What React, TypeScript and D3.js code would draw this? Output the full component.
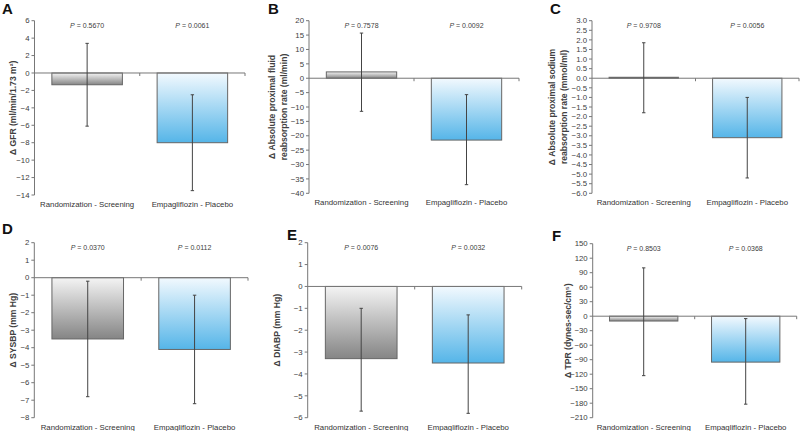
import React from "react";
import * as d3 from "d3";

const categories = ["Randomization - Screening", "Empagliflozin - Placebo"];
const panelLetters = ["A", "B", "C", "D", "E", "F"];
const yLabelLines: string[][] = [
  ["Δ GFR (ml/min/1.73 m²)"],
  ["Δ Absolute proximal fluid", "reabsorption rate (ml/min)"],
  ["Δ Absolute proximal sodium", "reabsorption rate (mmol/ml)"],
  ["Δ SYSBP (mm Hg)"],
  ["Δ DIABP (mm Hg)"],
  ["Δ TPR (dynes-sec/cm⁵)"],
];
const meanValues = [
  [-1.35, -8.0],
  [2.2, -21.5],
  [0.05, -3.1],
  [-3.5, -4.1],
  [-3.3, -3.5],
  [-10, -95],
];
const errLow = [
  [-6.1, -13.5],
  [-11.5, -37],
  [-1.8, -5.2],
  [-6.8, -7.2],
  [-5.7, -5.8],
  [-123, -182],
];
const errHigh = [
  [3.4, -2.5],
  [15.7, -5.7],
  [1.85, -1.0],
  [-0.2, -1.0],
  [-1.0, -1.3],
  [100, -5],
];
const pValues = [
  ["0.5670", "0.0061"],
  ["0.7578", "0.0092"],
  ["0.9708", "0.0056"],
  ["0.0370", "0.0112"],
  ["0.0076", "0.0032"],
  ["0.8503", "0.0368"],
];
const yDomains = [
  [-14, 6],
  [-40, 20],
  [-6, 3],
  [-8, 2],
  [-6, 2],
  [-210, 150],
];
const yTickSteps = [2, 5, 0.5, 1, 1, 30];
const yTickDecimals = [0, 0, 1, 0, 0, 0];

// layout (pixels)
const layouts = [
  { left: 34.5, right: 245, top: 20.7, bottom: 195, letterX: 2, letterY: 14, labelX: 15.5 },
  { left: 309, right: 519, top: 20.7, bottom: 193.3, letterX: 268, letterY: 14, labelX: 275 },
  { left: 592, right: 799, top: 20.7, bottom: 193.3, letterX: 550, letterY: 14, labelX: 555 },
  { left: 34.3, right: 248, top: 242.7, bottom: 417.7, letterX: 2, letterY: 234, labelX: 15.5 },
  { left: 307.7, right: 521.7, top: 242.7, bottom: 417.7, letterX: 287, letterY: 240, labelX: 280 },
  { left: 592.7, right: 796.7, top: 243.7, bottom: 417.7, letterX: 552, letterY: 241, labelX: 571 },
];

const FONT = "Liberation Sans, Arial, Helvetica, sans-serif";

function Panel({ i }: { i: number }) {
  const L = layouts[i];
  const [ymin, ymax] = yDomains[i];
  const y = d3.scaleLinear().domain([ymin, ymax]).range([L.bottom, L.top]);
  const x = d3.scaleBand<string>().domain(categories).range([L.left, L.right]).padding(0);
  const bw = x.bandwidth();
  const barW = bw * 0.67;
  const step = yTickSteps[i];
  const ticks = d3.range(ymin, ymax + step / 2, step);
  const fmt = d3.format(`.${yTickDecimals[i]}f`);
  const y0 = y(0);
  const lines = yLabelLines[i];
  const midY = (L.top + L.bottom) / 2;
  return (
    <g>
      <text x={L.letterX} y={L.letterY} fontFamily={FONT} fontWeight="bold" fontSize={15} fill="#111">
        {panelLetters[i]}
      </text>
      {/* y axis */}
      <line x1={L.left} x2={L.left} y1={L.top} y2={L.bottom} stroke="#777" strokeWidth={1} />
      {ticks.map((t) => (
        <g key={t}>
          <line x1={L.left - 3} x2={L.left} y1={y(t)} y2={y(t)} stroke="#777" />
          <text
            x={L.left - 5}
            y={y(t)}
            dy="0.35em"
            textAnchor="end"
            fontFamily={FONT}
            fontSize={7.8}
            fill="#404040"
          >
            {fmt(t).replace("-0.0", "0.0")}
          </text>
        </g>
      ))}
      {/* y label */}
      <text
        transform={`translate(${L.labelX},${midY}) rotate(-90)`}
        textAnchor="middle"
        fontFamily={FONT}
        fontWeight="bold"
        fontSize={8.6}
        fill="#404040"
      >
        {lines.map((ln, k) => (
          <tspan key={k} x={0} dy={k === 0 ? 0 : "1.35em"}>
            {ln}
          </tspan>
        ))}
      </text>
      {/* bars */}
      {categories.map((c, j) => {
        const v = meanValues[i][j];
        const bx = (x(c) as number) + (bw - barW) / 2;
        const yTop = Math.min(y(v), y0);
        const h = Math.abs(y(v) - y0);
        return (
          <rect
            key={c}
            x={bx}
            y={yTop}
            width={barW}
            height={Math.max(h, 0.5)}
            fill={j === 0 ? "url(#gradGray)" : "url(#gradBlue)"}
            stroke="#666"
            strokeWidth={1}
          />
        );
      })}
      {/* x axis at zero */}
      <line x1={L.left} x2={L.right} y1={y0} y2={y0} stroke="#777" strokeWidth={1} />
      {categories.map((c) => (
        <line
          key={c}
          x1={(x(c) as number) + bw}
          x2={(x(c) as number) + bw}
          y1={y0}
          y2={y0 + 3}
          stroke="#777"
        />
      ))}
      {/* error bars */}
      {categories.map((c, j) => {
        const cx = (x(c) as number) + bw / 2;
        const lo = y(errLow[i][j]);
        const hi = y(errHigh[i][j]);
        return (
          <g key={c} stroke="#444" strokeWidth={1}>
            <line x1={cx} x2={cx} y1={lo} y2={hi} />
            <line x1={cx - 1.7} x2={cx + 1.7} y1={lo} y2={lo} />
            <line x1={cx - 1.7} x2={cx + 1.7} y1={hi} y2={hi} />
          </g>
        );
      })}
      {/* P labels */}
      {categories.map((c, j) => (
        <text
          key={c}
          x={(x(c) as number) + bw / 2}
          y={L.top + 7}
          textAnchor="middle"
          fontFamily={FONT}
          fontSize={7}
          fill="#404040"
        >
          <tspan fontStyle="italic">P</tspan> = {pValues[i][j]}
        </text>
      ))}
      {/* category labels */}
      {categories.map((c) => (
        <text
          key={c}
          x={(x(c) as number) + bw / 2}
          y={L.bottom + 12}
          textAnchor="middle"
          fontFamily={FONT}
          fontSize={7.8}
          fill="#333"
        >
          {c}
        </text>
      ))}
    </g>
  );
}

export default function App() {
  return (
    <svg
      width={800}
      height={431}
      style={{ position: "absolute", left: 0, top: 0, background: "#fff" }}
    >
      <defs>
        <linearGradient id="gradGray" x1="0" y1="0" x2="0" y2="1">
          <stop offset="0" stopColor="#f4f4f4" />
          <stop offset="1" stopColor="#858585" />
        </linearGradient>
        <linearGradient id="gradBlue" x1="0" y1="0" x2="0" y2="1">
          <stop offset="0" stopColor="#f2f9fe" />
          <stop offset="1" stopColor="#55b5e8" />
        </linearGradient>
      </defs>
      <rect x={0} y={0} width={800} height={431} fill="#fff" />
      {layouts.map((_, i) => (
        <Panel key={i} i={i} />
      ))}
    </svg>
  );
}
